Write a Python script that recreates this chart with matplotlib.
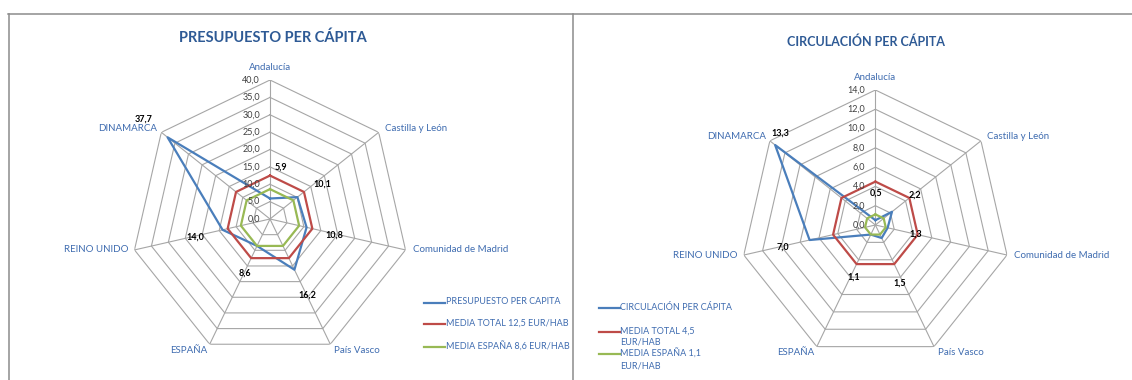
import numpy as np
import matplotlib
matplotlib.use("Agg")
import matplotlib.pyplot as plt
from matplotlib.lines import Line2D

plt.rcParams['font.family'] = ['Lato', 'DejaVu Sans']

# ---------------- data ----------------
categories = ["Andalucía", "Castilla y León", "Comunidad de Madrid", "País Vasco",
              "ESPAÑA", "REINO UNIDO", "DINAMARCA"]

presupuesto = [5.9, 10.1, 10.8, 16.2, 8.6, 14.0, 37.7]
presupuesto_media_total = [12.5, 12.5, 12.5, 12.5, 12.5, 12.5, 12.5]
presupuesto_media_espana = [8.6, 8.6, 8.6, 8.6, 8.6, 8.6, 8.6]
presupuesto_ticks = [0, 5, 10, 15, 20, 25, 30, 35, 40]

circulacion = [0.5, 2.2, 1.3, 1.5, 1.1, 7.0, 13.3]
circulacion_media_total = [4.5, 4.5, 4.5, 4.5, 4.5, 4.5, 4.5]
circulacion_media_espana = [1.1, 1.1, 1.1, 1.1, 1.1, 1.1, 1.1]
circulacion_ticks = [0, 2, 4, 6, 8, 10, 12, 14]

left_title = "PRESUPUESTO PER CÁPITA"
left_legend = ["PRESUPUESTO PER CAPITA", "MEDIA TOTAL 12,5 EUR/HAB", "MEDIA ESPAÑA 8,6 EUR/HAB"]
right_title = "CIRCULACIÓN PER CÁPITA"
right_legend = ["CIRCULACIÓN PER CÁPITA", "MEDIA TOTAL 4,5\nEUR/HAB", "MEDIA ESPAÑA 1,1\nEUR/HAB"]

# ---------------- style ----------------
W, H = 1132, 380
BLUE = "#4A7EBB"
RED = "#BE4B48"
GREEN = "#98B954"
GRID = "#A6A6A6"
LABEL_C = "#3F6CB0"
TITLE_C = "#2E5A95"
TICK_C = "#404040"
FRAME_C = "#8C8C8C"

fig = plt.figure(figsize=(W / 100, H / 100), dpi=100)
fig.patch.set_facecolor("white")


def px_axes(cx, cy, r):
    return [(cx - r) / W, (H - (cy + r)) / H, 2 * r / W, 2 * r / H]


# category label offsets (pixels) and alignment
cat_off = [(0, 13), (6, 4), (7, 0), (4, -6), (-2, -6), (-6, 0), (-4, 4)]
cat_ha = ["center", "left", "left", "left", "right", "right", "right"]


def radar(rect, values, total, espana, ticks, title, title_xy, title_fs,
          data_off, legend_labels, legend_xy):
    ax = fig.add_axes(rect, projection="polar")
    ax.set_theta_offset(np.pi / 2)
    ax.set_theta_direction(-1)
    n = len(categories)
    theta = np.linspace(0, 2 * np.pi, n, endpoint=False)
    th_c = np.append(theta, theta[0])
    rmax = ticks[-1]
    ax.set_ylim(0, rmax)
    ax.grid(False)
    ax.set_xticks([])
    ax.set_yticks([])
    ax.spines["polar"].set_visible(False)
    ax.patch.set_alpha(0)

    # polygon grid
    for t in ticks[1:]:
        ax.plot(th_c, [t] * (n + 1), color=GRID, lw=0.8, zorder=1)
    for th in theta:
        ax.plot([th, th], [0, rmax], color=GRID, lw=0.8, zorder=1)

    # tick labels
    for t in ticks:
        ax.annotate(f"{t:.1f}".replace(".", ","), xy=(0, t), xytext=(-10, 0),
                    textcoords="offset pixels", ha="right", va="center",
                    fontsize=6.5, color=TICK_C, zorder=5)

    # category labels
    for i, (th, c) in enumerate(zip(theta, categories)):
        ax.annotate(c, xy=(th, rmax), xytext=cat_off[i], textcoords="offset pixels",
                    ha=cat_ha[i], va="center", fontsize=7, color=LABEL_C,
                    annotation_clip=False)

    # series
    ax.plot(th_c, np.append(values, values[0]), color=BLUE, lw=1.6, zorder=3)
    ax.plot(th_c, np.append(total, total[0]), color=RED, lw=1.6, zorder=3)
    ax.plot(th_c, np.append(espana, espana[0]), color=GREEN, lw=1.6, zorder=3)

    # data labels
    for i, (th, v) in enumerate(zip(theta, values)):
        ax.annotate(f"{v:.1f}".replace(".", ","), xy=(th, v), xytext=data_off[i],
                    textcoords="offset pixels", ha="center", va="center",
                    fontsize=6.5, color="black", fontweight="bold", zorder=6,
                    annotation_clip=False)

    # title
    fig.text(title_xy[0] / W, 1 - title_xy[1] / H, title, ha="center", va="center",
             fontsize=title_fs, fontweight="bold", color=TITLE_C)

    # legend
    colors = [BLUE, RED, GREEN]
    lx, ly = legend_xy
    for k, (lab, col) in enumerate(zip(legend_labels, colors)):
        y = ly[k]
        fig.add_artist(Line2D([lx / W, (lx + 21) / W], [1 - y / H, 1 - y / H],
                              color=col, lw=1.6, transform=fig.transFigure))
        fig.text((lx + 22) / W, 1 - (y - 5.5) / H, lab, ha="left", va="top",
                 fontsize=6.5, color=LABEL_C, linespacing=1.35)
    return ax


left_data_off = [(11, 31), (25, 13), (28, -8), (13, -25), (-12, -27), (-27, -7), (-24, 18)]
radar(px_axes(270, 219, 139), presupuesto, presupuesto_media_total, presupuesto_media_espana,
      presupuesto_ticks, left_title, (273, 38), 10.5, left_data_off, left_legend,
      (423.5, [303, 324, 347]))

right_data_off = [(1, 27), (23, 17), (28, -6), (18, -45), (-17, -43), (-27, -7), (5, 12)]
radar(px_axes(875.4, 225, 135), circulacion, circulacion_media_total, circulacion_media_espana,
      circulacion_ticks, right_title, (866, 42), 9, right_data_off, right_legend,
      (598.5, [308, 332, 354]))

# frame lines (sheet borders)
fig.add_artist(Line2D([8 / W, 1], [1 - 13.5 / H, 1 - 13.5 / H], color=FRAME_C, lw=1.1,
                      transform=fig.transFigure))
fig.add_artist(Line2D([8.5 / W, 8.5 / W], [0, 1 - 13.5 / H], color=FRAME_C, lw=1.1,
                      transform=fig.transFigure))
fig.add_artist(Line2D([572.5 / W, 572.5 / W], [0, 1 - 13.5 / H], color=FRAME_C, lw=1.1,
                      transform=fig.transFigure))

fig.savefig("out.png", dpi=100, facecolor="white")
